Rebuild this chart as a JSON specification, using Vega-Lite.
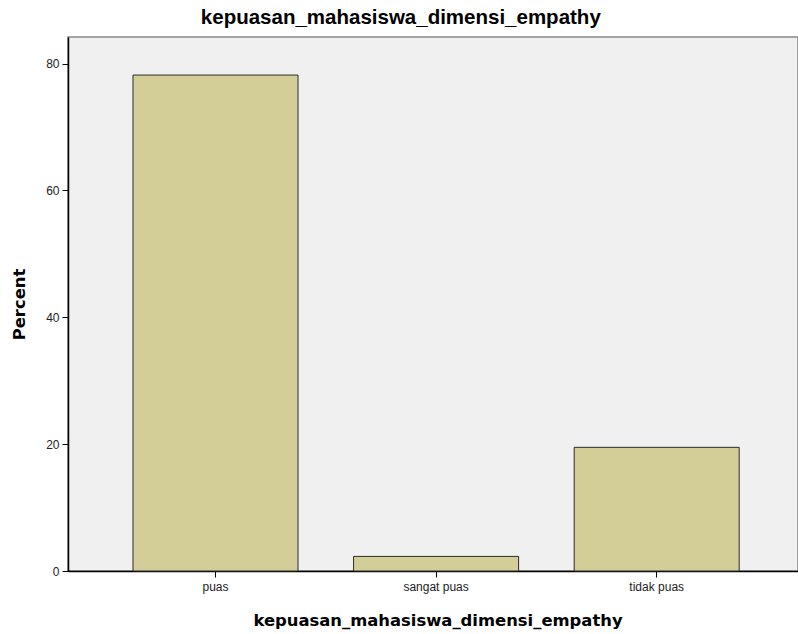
{
  "$schema": "https://vega.github.io/schema/vega-lite/v6.json",
  "width": 730,
  "height": 534,
  "autosize": {"type": "none"},
  "padding": {"left": 68, "top": 37, "right": 0, "bottom": 63},
  "background": "white",
  "title": {
    "text": "kepuasan_mahasiswa_dimensi_empathy",
    "font": "Liberation Sans",
    "fontSize": 20.5,
    "fontWeight": "bold",
    "color": "#000000",
    "anchor": "middle",
    "frame": "bounds",
    "dx": -4,
    "offset": 9
  },
  "config": {
    "view": {"fill": "#f0f0f0", "stroke": "#888888", "strokeWidth": 1.5},
    "axis": {"grid": false}
  },
  "data": {
    "values": [
      {"category": "puas", "percent": 78.2},
      {"category": "sangat puas", "percent": 2.3},
      {"category": "tidak puas", "percent": 19.5}
    ]
  },
  "mark": {"type": "bar", "fill": "#d3ce98", "stroke": "#2b2b2b", "strokeWidth": 1},
  "encoding": {
    "x": {
      "field": "category",
      "type": "nominal",
      "sort": null,
      "scale": {"paddingInner": 0.252, "paddingOuter": 0.2806, "align": 0.525},
      "axis": {
        "title": "kepuasan_mahasiswa_dimensi_empathy",
        "titleFont": "DejaVu Sans",
        "titleFontSize": 16.4,
        "titleFontWeight": "bold",
        "titleColor": "#000000",
        "titlePadding": 20,
        "titleAnchor": "start",
        "titleX": 185,
        "labelAngle": 0,
        "labelFont": "Liberation Sans",
        "labelFontSize": 12,
        "labelColor": "#222222",
        "labelPadding": 4,
        "tickColor": "#000000",
        "tickSize": 6,
        "domainColor": "#000000",
        "domainWidth": 1.5
      }
    },
    "y": {
      "field": "percent",
      "type": "quantitative",
      "scale": {"domain": [0, 84.2], "nice": false},
      "axis": {
        "title": "Percent",
        "titleFont": "DejaVu Sans",
        "titleFontSize": 16.4,
        "titleFontWeight": "bold",
        "titleColor": "#000000",
        "titlePadding": 18,
        "values": [0, 20, 40, 60, 80],
        "labelFont": "Liberation Sans",
        "labelFontSize": 12,
        "labelColor": "#222222",
        "labelPadding": 3,
        "tickColor": "#000000",
        "tickSize": 6,
        "domainColor": "#000000",
        "domainWidth": 1.5
      }
    }
  }
}
